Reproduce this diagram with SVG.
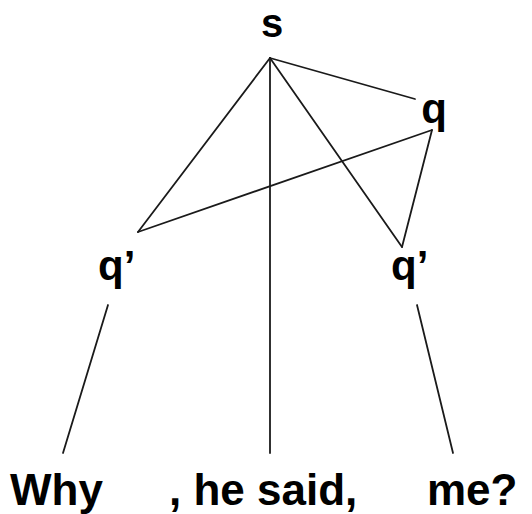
<svg xmlns="http://www.w3.org/2000/svg" width="532" height="514" viewBox="0 0 532 514">
<style>
.t{font-family:"Liberation Sans",Arial,sans-serif;font-weight:bold;font-size:42px;fill:#000}
.w{font-size:44px}
.e{stroke:#1a1a1a;stroke-width:1.8;fill:none;stroke-linecap:round}
</style>
<rect width="532" height="514" fill="#fff"/>
<g id="connectors">
<line class="e" x1="270" y1="58" x2="415" y2="99"/>
<line class="e" x1="270" y1="58" x2="138" y2="232"/>
<line class="e" x1="270" y1="58" x2="402" y2="247"/>
<line class="e" x1="270" y1="58" x2="270" y2="453"/>
<line class="e" x1="432" y1="130" x2="138" y2="232"/>
<line class="e" x1="432" y1="130" x2="402" y2="247"/>
<line class="e" x1="108" y1="305" x2="63" y2="453"/>
<line class="e" x1="417" y1="305" x2="453" y2="453"/>
</g>
<g id="s"><text class="t" x="272" y="37" text-anchor="middle" style="font-size:40px">s</text></g>
<g id="q"><text class="t" x="434" y="123" text-anchor="middle">q</text></g>
<g id="q1"><text class="t" x="98" y="280">q’</text></g>
<g id="q2"><text class="t" x="391" y="280">q’</text></g>
<g id="why"><text class="t w" x="10" y="505">Why</text></g>
<g id="hesaid"><text class="t w" x="169" y="505">, he said,</text></g>
<g id="me"><text class="t w" x="427" y="505">me?</text></g>
</svg>
